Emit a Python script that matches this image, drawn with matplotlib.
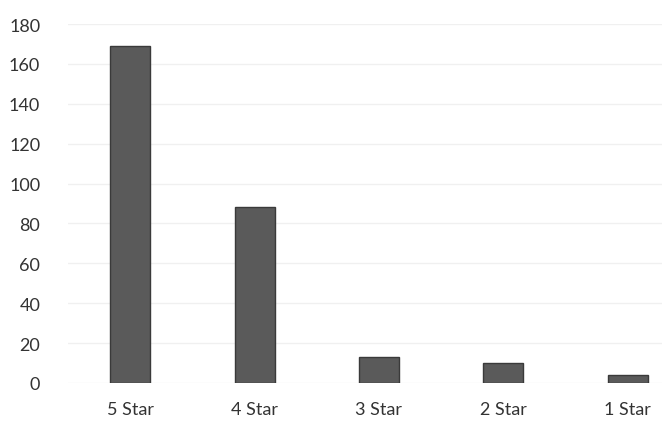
import matplotlib.pyplot as plt

ratings = ["5 Star", "4 Star", "3 Star", "2 Star", "1 Star"]
counts = [169, 88, 13, 10, 4]
yticks = [0, 20, 40, 60, 80, 100, 120, 140, 160, 180]

plt.rcParams["font.family"] = ["Lato", "DejaVu Sans"]

fig = plt.figure(figsize=(6.62, 4.31), dpi=100)
# plot area runs past the right edge, like the cropped scan
ax = fig.add_axes([68 / 662, 1 - 384 / 431, 622 / 662, 359 / 431])

ax.bar(range(len(ratings)), counts, width=0.32, color="#5a5a5a",
       edgecolor="#3a3a3a", linewidth=1.0, zorder=3)

ax.set_xlim(-0.5, 4.5)
ax.set_ylim(0, 180)
ax.set_yticks(yticks)
ax.set_xticks(range(len(ratings)))
ax.set_xticklabels(ratings)
ax.yaxis.grid(True, color="#f0f0f0", linewidth=1.0, zorder=0)
ax.tick_params(axis="both", length=0, labelsize=13, colors="#333333")
ax.tick_params(axis="y", pad=20)
ax.tick_params(axis="x", pad=13)
for s in ax.spines.values():
    s.set_visible(False)

fig.savefig("out.png", dpi=100)
